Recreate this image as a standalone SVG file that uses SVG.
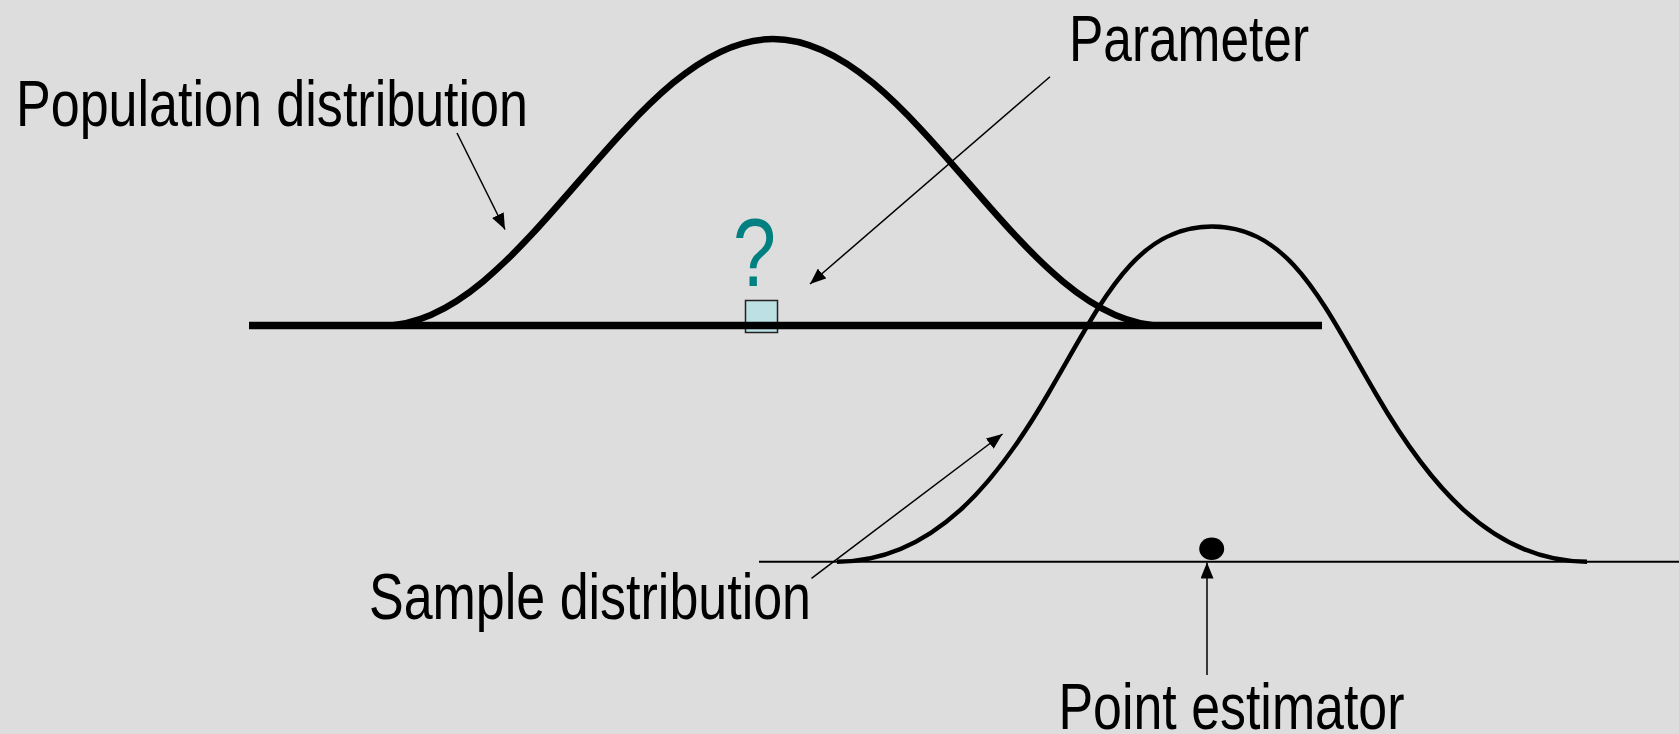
<svg xmlns="http://www.w3.org/2000/svg" width="1679" height="734" viewBox="0 0 1679 734">
  <style>
    .lbl { font-family: "Liberation Sans Narrow", "Arial Narrow", "Liberation Sans", Arial, sans-serif; font-size: 64px; fill: #000; }
    .conn { stroke: #000; stroke-width: 1.5; fill: none; marker-end: url(#arr); }
    .curve { fill: none; stroke: #000; stroke-linecap: butt; stroke-linejoin: round; }
  </style>
  <defs>
    <marker id="arr" viewBox="0 0 16 13" refX="16" refY="6.5" markerWidth="16" markerHeight="13" orient="auto" markerUnits="userSpaceOnUse">
      <path d="M0,0 L16,6.5 L0,13 z" fill="#000"/>
    </marker>
  </defs>
  <rect x="0" y="0" width="1679" height="734" fill="#dddddd"/>

  <g id="parameter-box">
    <rect x="745.5" y="300.5" width="32" height="32" fill="#bce0e3" stroke="#222" stroke-width="1.5"/>
  </g>

  <g id="population-distribution">
    <line x1="249" y1="325.5" x2="1322" y2="325.5" stroke="#000" stroke-width="7.5"/>
    <path class="curve" stroke-width="6.5" d="M383,325.5 C453.6,325.5 514.4,255.6 578,182.25 C641.6,108.9 702.4,39 773,39 C843.6,39 904.4,108.9 968,182.25 C1031.6,255.6 1092.4,325.5 1163,325.5"/>
  </g>

  <g id="sample-distribution">
    <line x1="759" y1="561.7" x2="1679" y2="561.7" stroke="#000" stroke-width="2"/>
    <path class="curve" stroke-width="4.5" d="M837,561.7 C934,561.7 998,480 1048,394 C1101.5,303 1134,226.5 1212,226.5 C1290,226.5 1322.5,303 1376,394 C1426,480 1490,561.7 1587,561.7"/>
  </g>

  <g id="point-estimator">
    <ellipse cx="1211.7" cy="548.7" rx="12.5" ry="11.3" fill="#000"/>
  </g>

  <g id="question-mark">
    <text x="754.5" y="286" text-anchor="middle" font-family="Liberation Sans, Arial, sans-serif" font-size="97" fill="#008080" textLength="43" lengthAdjust="spacingAndGlyphs">?</text>
  </g>

  <g id="labels">
    <text class="lbl" x="16" y="126" textLength="512" lengthAdjust="spacingAndGlyphs">Population distribution</text>
    <text class="lbl" x="1069" y="61" textLength="240" lengthAdjust="spacingAndGlyphs">Parameter</text>
    <text class="lbl" x="369" y="618.5" textLength="442" lengthAdjust="spacingAndGlyphs">Sample distribution</text>
    <text class="lbl" x="1058.5" y="728.5" textLength="346" lengthAdjust="spacingAndGlyphs">Point estimator</text>
  </g>

  <g id="connectors">
    <line class="conn" x1="457" y1="133" x2="505" y2="229.5"/>
    <line class="conn" x1="1050" y1="76.7" x2="810" y2="284"/>
    <line class="conn" x1="811.5" y1="578.3" x2="1002.5" y2="434"/>
    <line class="conn" x1="1207" y1="675" x2="1207" y2="562.5"/>
  </g>
</svg>
